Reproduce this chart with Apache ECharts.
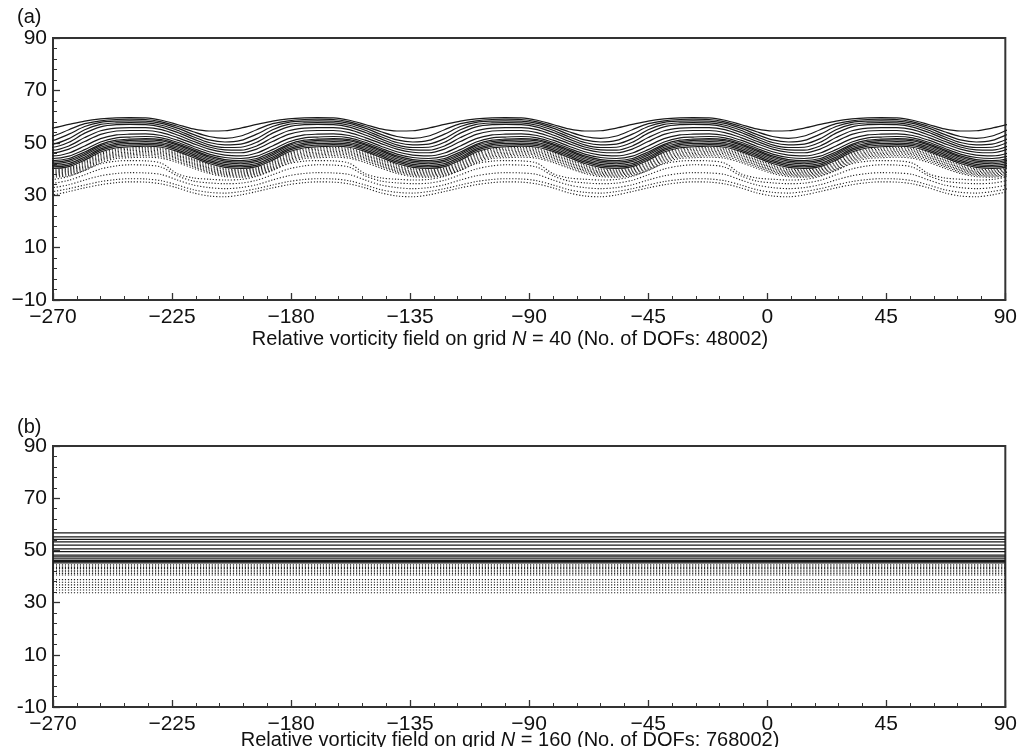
<!DOCTYPE html>
<html><head><meta charset="utf-8">
<script src="https://cdn.jsdelivr.net/npm/echarts@6/dist/echarts.min.js"></script>
<style>html,body{margin:0;padding:0;background:#fff}#c{width:1020px;height:747px}</style>
</head><body><div id="c"></div>
<script>
// ---- data ----
// x / y tick labels
const lonTicks = [-270, -225, -180, -135, -90, -45, 0, 45, 90];
const latTicks = [-10, 10, 30, 50, 70, 90];
// panel (a): longitudes of the wave crests, and offsets (deg) after each crest where latitudes were read
const crestLons = [-312, -241, -170, -99, -28, 43, 114];
const crestOffsets = [0, 6, 12, 18, 24, 30, 36, 42, 48, 54, 60, 66];
// panel (a) solid contours (positive vorticity), latitude at each offset
const solidA = [
  [59.6, 59.5, 58.6, 57.0, 55.3, 54.5, 54.6, 55.6, 57.0, 58.3, 59.1, 59.5],
  [59.0, 58.9, 58.0, 56.3, 54.2, 52.4, 51.7, 52.6, 55.0, 57.3, 58.4, 58.9],
  [58.4, 58.3, 57.4, 55.6, 53.2, 51.1, 50.3, 50.9, 53.3, 56.2, 57.8, 58.3],
  [57.7, 57.6, 56.7, 54.8, 52.3, 50.1, 49.2, 49.5, 51.6, 55.0, 57.0, 57.6],
  [57.0, 56.9, 56.0, 54.0, 51.5, 49.2, 48.2, 48.3, 50.2, 53.7, 56.1, 56.9],
  [55.8, 55.8, 55.0, 53.0, 50.6, 48.4, 47.3, 47.2, 48.8, 52.0, 54.6, 55.6],
  [54.7, 54.7, 53.9, 52.0, 49.7, 47.6, 46.4, 46.2, 47.6, 50.5, 53.2, 54.5],
  [53.3, 53.4, 52.8, 51.0, 48.7, 46.6, 45.3, 45.0, 46.1, 48.8, 51.6, 53.0],
  [52.2, 52.4, 51.9, 50.2, 47.9, 45.7, 44.4, 44.0, 44.9, 47.4, 50.3, 51.9],
  [51.4, 51.6, 51.2, 49.6, 47.3, 45.0, 43.6, 43.2, 44.0, 46.5, 49.4, 51.0],
  [50.9, 51.1, 50.7, 49.1, 46.8, 44.5, 43.0, 42.6, 43.4, 45.9, 48.9, 50.5],
  [50.3, 50.5, 50.1, 48.5, 46.2, 43.9, 42.4, 42.0, 42.8, 45.3, 48.3, 49.9],
  [49.7, 49.9, 49.5, 47.9, 45.6, 43.3, 41.8, 41.4, 42.1, 44.6, 47.7, 49.3],
  [49.1, 49.3, 48.9, 47.3, 45.0, 42.7, 41.2, 40.8, 41.5, 44.0, 47.1, 48.7],
  [48.5, 48.7, 48.3, 46.7, 44.4, 42.1, 40.6, 40.2, 40.9, 43.4, 46.5, 48.1]
];
// panel (a) dotted contours (negative vorticity)
const dottedA = [
  [48.0, 48.2, 47.8, 46.2, 43.9, 41.6, 40.1, 39.7, 40.4, 42.9, 46.0, 47.6],
  [47.5, 47.7, 47.3, 45.7, 43.4, 41.1, 39.7, 39.3, 40.0, 42.4, 45.5, 47.1],
  [47.0, 47.2, 46.8, 45.2, 42.9, 40.6, 39.2, 38.9, 39.6, 41.9, 45.0, 46.6],
  [46.4, 46.7, 46.3, 44.7, 42.4, 40.2, 38.8, 38.5, 39.2, 41.4, 44.5, 46.1],
  [45.9, 46.2, 45.8, 44.2, 41.9, 39.7, 38.4, 38.1, 38.8, 40.9, 44.0, 45.6],
  [45.4, 45.7, 45.3, 43.7, 41.4, 39.3, 38.0, 37.7, 38.4, 40.4, 43.5, 45.1],
  [44.9, 45.1, 44.7, 43.1, 40.9, 38.8, 37.6, 37.3, 38.0, 39.9, 43.0, 44.6],
  [44.3, 44.5, 44.1, 42.5, 40.3, 38.3, 37.1, 36.9, 37.5, 39.4, 42.4, 44.0],
  [43.2, 43.1, 42.2, 38.2, 36.6, 36.1, 35.8, 36.0, 37.2, 39.6, 42.0, 43.0],
  [41.6, 41.5, 40.7, 37.4, 35.4, 34.7, 34.4, 34.6, 35.7, 37.8, 40.0, 41.2],
  [38.6, 38.5, 37.9, 35.8, 33.9, 32.9, 32.5, 32.9, 34.0, 35.8, 37.4, 38.3],
  [36.3, 36.2, 35.5, 33.9, 32.1, 31.1, 30.8, 31.4, 32.5, 33.9, 35.2, 36.0],
  [35.1, 35.0, 34.3, 32.8, 30.9, 29.7, 29.4, 30.1, 31.4, 32.8, 34.0, 34.8]
];
// panel (b): nearly zonal contours, one latitude each
const solidB = [56.7, 55.2, 54.2, 53.3, 52.0, 50.6, 49.5, 48.2, 47.5, 46.8, 46.2, 45.7, 45.2];
const dottedB = [44.5, 44.0, 43.5, 43.0, 42.4, 41.8, 41.2, 40.6, 38.8, 37.8, 36.8, 35.8, 34.8, 33.8];
const captions = [
  ['Relative vorticity field on grid ', 'N', ' = 40 (No. of DOFs: 48002)'],
  ['Relative vorticity field on grid ', 'N', ' = 160 (No. of DOFs: 768002)']
];

// ---- chart ----
const FONT = "'Liberation Sans', Arial, Helvetica, sans-serif";
const INK = '#1a1a1a';
function tile(profile) {
  const pts = [];
  crestLons.forEach(c => crestOffsets.forEach((d, i) => pts.push([c + d, profile[i]])));
  return pts;
}
function flat(lat) { return [[lonTicks[0], lat], [lonTicks[lonTicks.length - 1], lat]]; }
const minus = v => (v < 0 ? '\u2212' + Math.abs(v) : String(v));

function xAx(gi) {
  return {
    type: 'value', gridIndex: gi, min: lonTicks[0], max: lonTicks[lonTicks.length - 1], interval: 45,
    axisLine: { show: true, onZero: false, lineStyle: { color: '#333', width: 2 } },
    axisTick: { show: true, inside: true, length: 7, lineStyle: { color: '#333', width: 1.3 } },
    minorTick: { show: true, splitNumber: 5, length: 4, lineStyle: { color: '#333', width: 1 } },
    splitLine: { show: false },
    axisLabel: { color: '#111', fontSize: 21, fontFamily: FONT, margin: 7, formatter: minus }
  };
}
function yAx(gi, hyphen) {
  return {
    type: 'value', gridIndex: gi, min: latTicks[0], max: latTicks[latTicks.length - 1], interval: 20,
    axisLine: { show: true, onZero: false, lineStyle: { color: '#333', width: 2 } },
    axisTick: { show: true, inside: true, length: 7, lineStyle: { color: '#333', width: 1.3 } },
    minorTick: { show: true, splitNumber: 5, length: 4, lineStyle: { color: '#333', width: 1 } },
    splitLine: { show: false },
    axisLabel: { color: '#111', fontSize: 21, fontFamily: FONT, margin: 6,
      formatter: v => (hyphen && v < 0 ? String(v) : minus(v)) }
  };
}
const series = [];
function add(gi, data, dotted) {
  series.push({
    type: 'line', xAxisIndex: gi, yAxisIndex: gi, data, showSymbol: false, symbol: 'none',
    smooth: 0.3, clip: true, silent: true, animation: false,
    lineStyle: dotted ? { color: '#222', width: 1.1, type: [1.2, 1.8] } : { color: INK, width: 1.2 }
  });
}
solidA.forEach(p => add(0, tile(p), false));
dottedA.forEach(p => add(0, tile(p), true));
solidB.forEach(l => add(1, flat(l), false));
dottedB.forEach(l => add(1, flat(l), true));

const rich = {
  t: { fontSize: 20, fontFamily: FONT, fontWeight: 'normal', color: '#111' },
  i: { fontSize: 20, fontFamily: FONT, fontWeight: 'normal', fontStyle: 'italic', color: '#111' }
};
const capText = c => '{t|' + c[0] + '}{i|' + c[1] + '}{t|' + c[2] + '}';

const chart = echarts.init(document.getElementById('c'), null, { renderer: 'canvas' });
chart.setOption({
  backgroundColor: '#fff',
  animation: false,
  grid: [
    { left: 53, right: 13, top: 38, height: 262, show: true, borderColor: '#333', borderWidth: 2, backgroundColor: 'transparent' },
    { left: 53, right: 13, top: 446, height: 261, show: true, borderColor: '#333', borderWidth: 2, backgroundColor: 'transparent' }
  ],
  title: [
    { text: '(a)', left: 17, top: 7, padding: 0, textStyle: { fontSize: 20, fontWeight: 'normal', fontFamily: FONT, color: '#111' } },
    { text: '(b)', left: 17, top: 417, padding: 0, textStyle: { fontSize: 20, fontWeight: 'normal', fontFamily: FONT, color: '#111' } },
    { text: capText(captions[0]), left: 'center', top: 329, padding: 0, textStyle: { fontWeight: 'normal', rich } },
    { text: capText(captions[1]), left: 'center', top: 730, padding: 0, textStyle: { fontWeight: 'normal', rich } }
  ],
  xAxis: [xAx(0), xAx(1)],
  yAxis: [yAx(0, false), yAx(1, true)],
  series
});
</script></body></html>
